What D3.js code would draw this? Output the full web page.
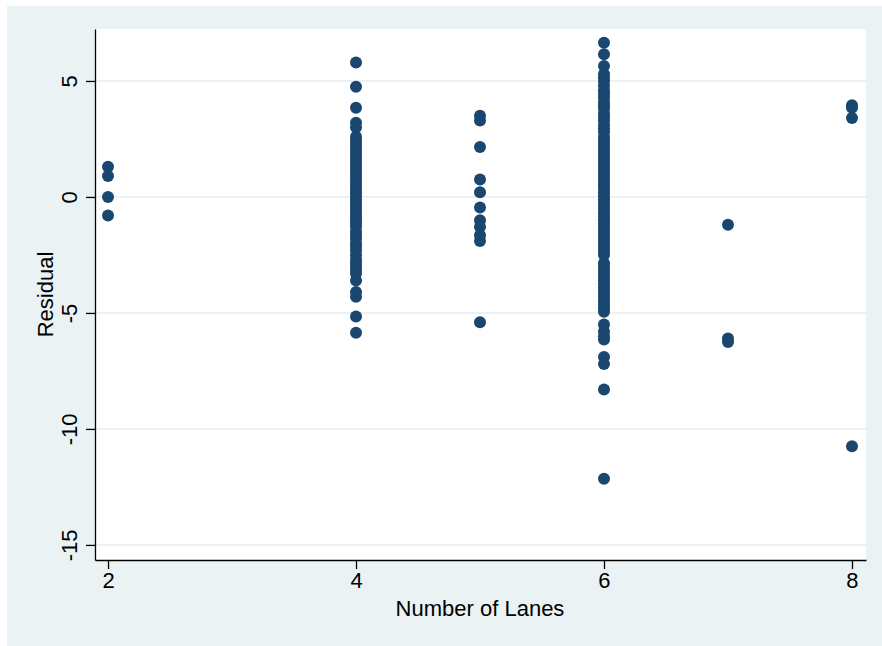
<!DOCTYPE html>
<html>
<head>
<meta charset="utf-8">
<script src="https://cdn.jsdelivr.net/npm/d3@7"></script>
<style>
  body { margin: 0; background: #ffffff; }
  text { font-family: "Liberation Sans", Arial, sans-serif; fill: #000; }
</style>
</head>
<body>
<svg id="chart" width="882" height="646"></svg>
<script>
// residuals, one list per lane count
const lanes2 = [1.3, 0.9, 0.0, -0.8]
const lanes4 = [
  5.8, 4.75, 3.85, 3.2, 3.0,
  2.6, 2.45, 2.3, 2.15, 2.0, 1.85, 1.7, 1.55, 1.4, 1.25, 1.1, 0.95, 0.8,
  0.65, 0.5, 0.35, 0.2, 0.05, -0.1, -0.25, -0.4, -0.55, -0.7, -0.85, -1.0,
  -1.15, -1.3, -1.5, -1.65, -1.8, -2.0, -2.15, -2.3, -2.5, -2.7, -2.85,
  -3.0, -3.15, -3.3,
  -3.6, -4.1, -4.3, -5.15, -5.85
]
const lanes5 = [3.5, 3.3, 2.15, 0.75, 0.2, -0.45, -1.0, -1.3, -1.65, -1.9, -5.4]
const lanes6 = [
  6.65, 6.15, 5.65, 5.3, 5.15, 5.0,
  4.8, 4.6, 4.45, 4.3, 4.1, 3.95, 3.8, 3.6, 3.45, 3.3, 3.1, 2.95, 2.8,
  2.6, 2.45, 2.3, 2.15, 2.0, 1.85, 1.7, 1.55, 1.4, 1.25, 1.1, 0.95, 0.8,
  0.65, 0.5, 0.35, 0.2, 0.05, -0.1, -0.25, -0.4, -0.55, -0.7, -0.85, -1.0,
  -1.15, -1.3, -1.45, -1.6, -1.75, -1.9, -2.05, -2.2, -2.35, -2.5,
  -2.85, -3.0, -3.15, -3.3, -3.45, -3.6, -3.75, -3.9, -4.05, -4.2, -4.35,
  -4.5, -4.65, -4.8, -4.95,
  -5.5, -5.8, -6.0, -6.15, -6.9, -7.2, -8.3, -12.15
]
const lanes7 = [-1.2, -6.1, -6.25]
const lanes8 = [3.95, 3.85, 3.4, -10.75]

const laneGroups = [
  { lanes: 2, values: lanes2 },
  { lanes: 4, values: lanes4 },
  { lanes: 5, values: lanes5 },
  { lanes: 6, values: lanes6 },
  { lanes: 7, values: lanes7 },
  { lanes: 8, values: lanes8 },
]

const xTicks = [2, 4, 6, 8]
const yTicks = [5, 0, -5, -10, -15]

const xLabel = "Number of Lanes"
const yLabel = "Residual"

const panelColor = "#eaf2f3"
const markerColor = "#1a476f"
const fontSize = 22

const margin = { top: 29, bottom: 86, left: 95, right: 16 }
const width = 882
const height = 646

const svg = d3.select("#chart")

// outer light panel
svg.append("rect")
  .attr("x", 7)
  .attr("y", 6)
  .attr("width", width - 7)
  .attr("height", height - 6)
  .attr("fill", panelColor)

// white plot region
svg.append("rect")
  .attr("x", margin.left)
  .attr("y", margin.top)
  .attr("width", width - margin.left - margin.right)
  .attr("height", height - margin.top - margin.bottom)
  .attr("fill", "#ffffff")

const xScale = d3.scaleLinear()
  .domain([1.895, 8.113])
  .range([margin.left, width - margin.right])

const yScale = d3.scaleLinear()
  .domain([-15.65, 7.24])
  .range([height - margin.bottom, margin.top])

// plain hyphen for negatives, like the original
const fmt = d => String(d)

// horizontal grid lines
svg.append("g")
  .selectAll("line")
  .data(yTicks)
  .enter()
  .append("line")
  .attr("x1", margin.left)
  .attr("x2", width - margin.right)
  .attr("y1", d => yScale(d))
  .attr("y2", d => yScale(d))
  .attr("stroke", panelColor)
  .attr("stroke-width", 2)

// axes
const xAxis = svg.append("g")
  .attr("transform", "translate(0," + (height - margin.bottom) + ")")
  .call(d3.axisBottom(xScale).tickValues(xTicks).tickFormat(fmt).tickSize(9).tickSizeOuter(0).tickPadding(3))

const yAxis = svg.append("g")
  .attr("transform", "translate(" + margin.left + ",0)")
  .call(d3.axisLeft(yScale).tickValues(yTicks).tickFormat(fmt).tickSize(9).tickSizeOuter(0))

svg.selectAll(".domain").attr("stroke", "#000").attr("stroke-width", 1.3)
svg.selectAll(".tick line").attr("stroke", "#000").attr("stroke-width", 1.3)

xAxis.selectAll("text")
  .attr("font-size", fontSize)
  .attr("font-family", "Liberation Sans, Arial, sans-serif")
  .attr("fill", "#000")

// y tick labels are written vertically
yAxis.selectAll(".tick text")
  .attr("font-size", fontSize)
  .attr("font-family", "Liberation Sans, Arial, sans-serif")
  .attr("fill", "#000")
  .attr("x", null)
  .attr("dy", null)
  .attr("text-anchor", "middle")
  .attr("transform", "translate(-18,0) rotate(-90)")

// axis titles
svg.append("text")
  .attr("x", (xScale(2) + xScale(8)) / 2)
  .attr("y", 616)
  .attr("text-anchor", "middle")
  .attr("font-size", fontSize)
  .text(xLabel)

svg.append("text")
  .attr("transform", "translate(53," + (margin.top + height - margin.bottom) / 2 + ") rotate(-90)")
  .attr("text-anchor", "middle")
  .attr("font-size", fontSize)
  .text(yLabel)

// points
const points = laneGroups.flatMap(g => g.values.map(v => ({ lanes: g.lanes, value: v })))

svg.append("g")
  .selectAll("circle")
  .data(points)
  .enter()
  .append("circle")
  .attr("cx", d => xScale(d.lanes))
  .attr("cy", d => yScale(d.value))
  .attr("r", 6)
  .attr("fill", markerColor)
</script>
</body>
</html>
